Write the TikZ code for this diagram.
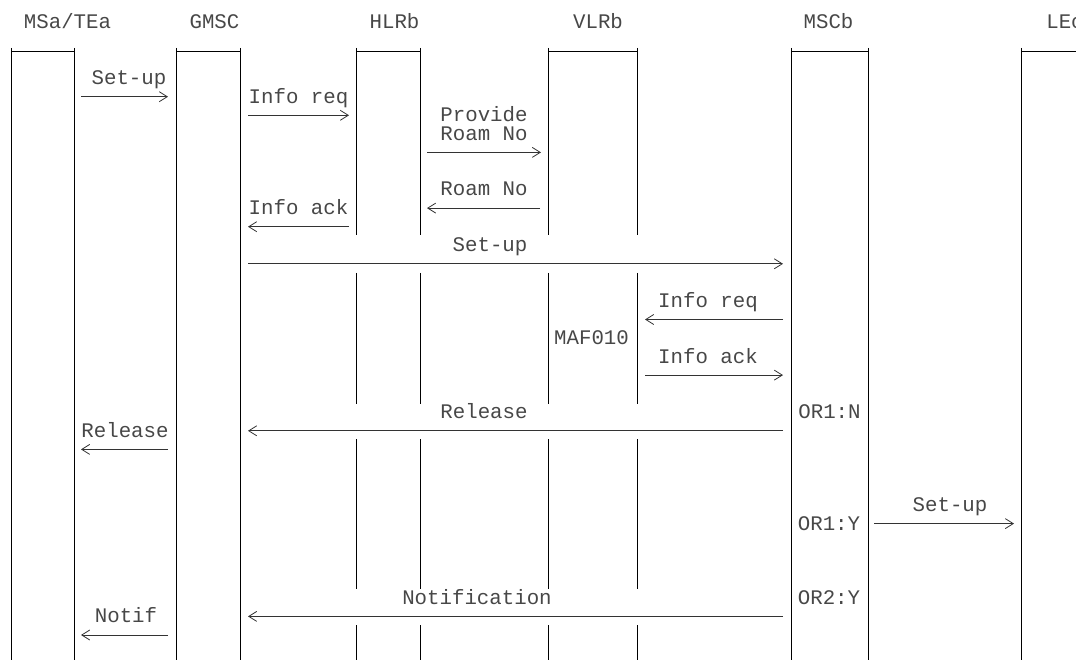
\documentclass[tikz,border=0pt]{standalone}
\usepackage{fontspec}
\newfontfamily\mono{Liberation Mono}
\usetikzlibrary{arrows.meta}
\tikzset{
  lbl/.style={font=\mono\fontsize{20.75}{20.75}\selectfont, text=black!72, inner sep=0pt, anchor=base},
  life/.style={line width=1pt, black},
  msg/.style={line width=0.8pt, black!80, -{Straight Barb[length=8pt,width=10pt,line width=0.8pt]}},
}
\begin{document}
\begin{tikzpicture}[x=1pt,y=-1pt]
\useasboundingbox (0,0) rectangle (1076,660);
% headers
\node[lbl] (hMS) at (67.5,29) {MSa/TEa};
\node[lbl] (hGM) at (214.5,29) {GMSC};
\node[lbl] (hHL) at (394.5,29) {HLRb};
\node[lbl] (hVL) at (598,29) {VLRb};
\node[lbl] (hMB) at (828.5,29) {MSCb};
\node[lbl] (hLE) at (1065,29) {LEc};
% lifelines: top bars
\foreach \a/\b in {11/74,176/240,356/420,548/637,791/868,1021/1080}
  \draw[life] (\a,52) -- (\b,52);
% continuous lines
\foreach \x in {11,74,176,240,791,868,1021}
  \draw[life] (\x,48) -- (\x,662);
% broken lines (HLRb, VLRb)
\foreach \x in {356,420,548,637}{
  \draw[life] (\x,48) -- (\x,235.5);
  \draw[life] (\x,273) -- (\x,404);
  \draw[life] (\x,439) -- (\x,588.5);
  \draw[life] (\x,625) -- (\x,662);
}
% ---- messages ----
% 1 Set-up MSa -> GMSC
\node[lbl] (t1) at (129,84.7) {Set-up};
\coordinate (a1s) at (81,96.7); \coordinate (a1e) at (168,96.7);
\draw[msg] (a1s) -- (a1e);
% 2 Info req GMSC -> HLRb
\node[lbl] (t2) at (298.5,103.2) {Info req};
\coordinate (a2s) at (248,115.3); \coordinate (a2e) at (349,115.3);
\draw[msg] (a2s) -- (a2e);
% 3 Provide Roam No HLRb -> VLRb
\node[lbl] (t3a) at (484,121.8) {Provide};
\node[lbl] (t3b) at (484,140.4) {Roam No};
\coordinate (a3s) at (427,152.4); \coordinate (a3e) at (541,152.4);
\draw[msg] (a3s) -- (a3e);
% 4 Roam No VLRb -> HLRb
\node[lbl] (t4) at (484,196.0) {Roam No};
\coordinate (a4s) at (540,208.1); \coordinate (a4e) at (427,208.1);
\draw[msg] (a4s) -- (a4e);
% 5 Info ack HLRb -> GMSC
\node[lbl] (t5) at (298.5,214.6) {Info ack};
\coordinate (a5s) at (349,226.7); \coordinate (a5e) at (248,226.7);
\draw[msg] (a5s) -- (a5e);
% 6 Set-up GMSC -> MSCb
\node[lbl] (t6) at (490,251.7) {Set-up};
\coordinate (a6s) at (248,263.8); \coordinate (a6e) at (783,263.8);
\draw[msg] (a6s) -- (a6e);
% 7 Info req MSCb -> VLRb
\node[lbl] (t7) at (708,307.4) {Info req};
\coordinate (a7s) at (783,319.5); \coordinate (a7e) at (645,319.5);
\draw[msg] (a7s) -- (a7e);
% MAF010
\node[lbl] (maf) at (591.5,344.5) {MAF010};
% 8 Info ack VLRb -> MSCb
\node[lbl] (t8) at (708,363.1) {Info ack};
\coordinate (a8s) at (645,375.1); \coordinate (a8e) at (783,375.1);
\draw[msg] (a8s) -- (a8e);
% 9 Release MSCb -> GMSC
\node[lbl] (t9) at (484,418.8) {Release};
\node[lbl] (or1n) at (829.5,418.8) {OR1:N};
\coordinate (a9s) at (783,430.8); \coordinate (a9e) at (248,430.8);
\draw[msg] (a9s) -- (a9e);
% 10 Release GMSC -> MSa
\node[lbl] (t10) at (125,437.3) {Release};
\coordinate (a10s) at (168,449.4); \coordinate (a10e) at (81,449.4);
\draw[msg] (a10s) -- (a10e);
% 11 Set-up MSCb -> LEc
\node[lbl] (t11) at (950,511.6) {Set-up};
\node[lbl] (or1y) at (829,530.1) {OR1:Y};
\coordinate (a11s) at (874,523.6); \coordinate (a11e) at (1014,523.6);
\draw[msg] (a11s) -- (a11e);
% 12 Notification MSCb -> GMSC
\node[lbl] (t12) at (477,604.4) {Notification};
\node[lbl] (or2y) at (829,604.4) {OR2:Y};
\coordinate (a12s) at (783,616.4); \coordinate (a12e) at (248,616.4);
\draw[msg] (a12s) -- (a12e);
% 13 Notif GMSC -> MSa
\node[lbl] (t13) at (126,622.9) {Notif};
\coordinate (a13s) at (168,635.0); \coordinate (a13e) at (81,635.0);
\draw[msg] (a13s) -- (a13e);
\end{tikzpicture}
\end{document}
